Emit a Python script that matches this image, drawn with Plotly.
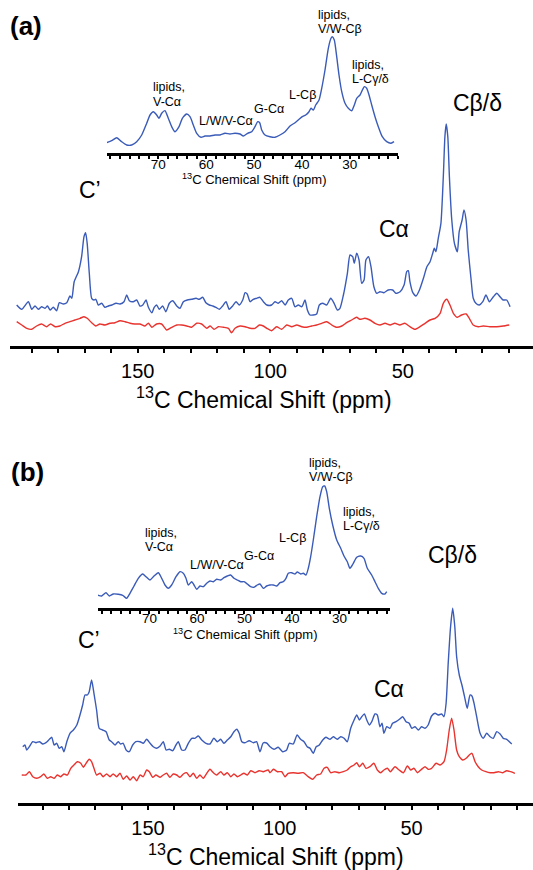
import plotly.graph_objects as go

W, H = 533, 870

# ---------------- data (ppm, intensity) ----------------
A_BLUE_PPM = [195.7, 193.8, 191.3, 190.0, 188.8, 187.5, 186.3, 185.0, 184.1, 183.1, 181.9, 180.6, 179.6, 178.1,
              176.8, 175.6, 174.9, 174.0, 172.4, 171.2, 170.3, 169.7, 169.1, 168.3, 167.4, 166.5, 165.8, 164.9,
              163.6, 162.4, 161.1, 159.8, 158.2, 156.7, 155.2, 154.2, 153.2, 151.7, 150.4, 149.2, 148.1, 146.9,
              146.0, 144.7, 143.8, 142.9, 141.9, 140.6, 139.4, 138.1, 136.8, 135.3, 134.1, 132.8, 131.3, 129.7,
              128.0, 126.8, 125.5, 124.3, 123.0, 121.7, 120.5, 119.2, 118.0, 116.7, 115.5, 114.2, 112.9, 111.7,
              110.4, 109.5, 108.7, 107.6, 106.4, 105.1, 103.9, 102.6, 101.3, 99.5, 98.2, 97.0, 95.7, 94.4, 93.2,
              91.9, 90.7, 89.4, 88.1, 86.9, 86.0, 85.0, 83.8, 82.5, 81.5, 80.2, 78.7, 77.2, 75.9, 74.7, 73.7,
              72.4, 70.9, 69.9, 68.9, 68.3, 67.4, 66.5, 65.5, 64.6, 63.9, 62.9, 62.0, 60.9, 59.8, 58.6, 57.1,
              55.5, 53.8, 52.6, 51.0, 49.5, 48.5, 47.9, 47.3, 46.2, 45.0, 43.7, 42.2, 40.9, 39.7, 38.7, 38.1,
              37.5, 36.6, 35.6, 34.7, 34.1, 33.6, 33.0, 32.4, 31.5, 30.5, 29.4, 28.7, 27.6, 26.9, 26.1, 25.3,
              24.2, 23.4, 22.4, 21.1, 19.8, 18.6, 17.3, 15.8, 14.5, 13.3, 12.1, 10.8, 9.5]
A_BLUE_INT = [39, 34.7, 42.3, 34.7, 38, 34.7, 37.3, 35.7, 38, 34, 36.7, 33.3, 41.3, 40,
              41.3, 48, 45.7, 62.3, 72.3, 87.3, 107.3, 111.3, 100.7, 70.7, 45.7, 44, 44.7, 39,
              40.7, 36.7, 38, 39, 40.7, 40, 42.3, 49, 43.3, 42.3, 44, 38, 39, 44,
              36.7, 31.3, 36.7, 39, 34.7, 38, 32.3, 40.7, 43.3, 38, 35.7, 42.3, 44, 44.7,
              45.7, 44.7, 46.7, 41.3, 39, 38, 36.7, 34.7, 38, 42.3, 34.7, 38, 42.3, 39,
              44, 51.3, 50, 42.3, 44.7, 45.7, 46.7, 42.3, 39, 39, 42.3, 40.7, 43.3, 39, 44,
              45.7, 37.3, 39, 37.3, 44, 34, 29, 29, 30, 39, 40.7, 39, 45.7, 40.7, 34, 35.7,
              49, 70.7, 89, 87.3, 80.7, 90.7, 84, 60.7, 64, 84, 87.3, 77.3, 57.3, 50.7, 52.3, 51.3,
              54, 54, 50.7, 52.3, 59, 72.3, 73.3, 62.3, 51.3, 48, 54, 65.7, 77.3, 82.3, 90.7, 95.7,
              92.3, 105.7, 120.7, 167.3, 207.3, 220, 207.3, 167.3, 124, 100.7, 92.3, 112.3, 124, 134, 124, 94,
              64, 45.7, 40.7, 39, 42.3, 49, 42.3, 47.3, 50.7, 47.3, 44, 44, 37.3]

A_RED_PPM = [195.7, 193.8, 191.9, 190.0, 188.2, 186.3, 184.4, 182.9, 181.2, 179.4, 177.5, 175.6, 173.7, 171.8,
             170.3, 169.1, 167.4, 165.8, 164.3, 162.4, 160.5, 158.6, 156.7, 154.8, 152.9, 151.1, 149.2, 147.3,
             146.0, 144.7, 142.9, 141.0, 139.1, 137.2, 135.3, 133.4, 131.5, 129.7, 127.8, 125.9, 124.0, 122.7,
             121.2, 119.6, 117.7, 115.8, 114.6, 113.3, 111.4, 109.5, 107.6, 105.8, 104.1, 102.6, 101.3, 99.5,
             97.6, 95.7, 93.8, 91.9, 90.0, 88.1, 86.3, 84.4, 82.5, 80.6, 78.7, 76.8, 74.9, 73.0, 71.2, 69.3,
             67.4, 66.2, 64.3, 62.4, 60.5, 58.6, 56.7, 54.8, 53.0, 51.1, 49.2, 47.3, 45.4, 43.5, 41.6, 39.7,
             37.8, 35.9, 34.7, 33.4, 32.2, 30.9, 29.4, 27.8, 26.1, 24.9, 23.4, 21.5, 19.6, 17.1, 14.5, 12.1, 9.8]
A_RED_INT = [22.3, 19, 15.7, 14.7, 18, 20, 17.3, 20, 17.3, 18, 20.7, 22.3, 24, 25.7,
             27.3, 25.7, 21.3, 18, 20, 19, 20.7, 21.3, 23.3, 22.3, 20.7, 20, 20, 18,
             20.7, 16.7, 20, 20, 14, 16.7, 19, 19, 18, 16.7, 20.7, 20, 15.7, 18,
             14.7, 17.3, 16.7, 15.7, 11.3, 15.7, 18, 17.3, 15.7, 15.7, 19, 18, 15.7, 13.3,
             17.3, 14.7, 19, 17.3, 19, 17.3, 16.7, 18, 19, 20.7, 22.3, 19, 16.7, 18, 21.3, 24,
             26.7, 24.7, 25.7, 24, 20.7, 19, 20.7, 19, 20.7, 19, 20.7, 17.3, 14.7, 17.3, 20.7, 24,
             25.7, 30.7, 40.7, 44.7, 39, 30.7, 26.7, 29, 30, 25.7, 19, 17.3, 18, 17.3, 17.3, 18, 19]

A_INSET_PPM = [80.77, 79.73, 78.68, 77.64, 76.60, 75.55, 74.51, 73.46, 72.42, 71.73, 71.04, 70.33, 69.85, 69.29,
               68.60, 67.91, 67.20, 66.51, 65.67, 64.98, 64.07, 63.38, 62.69, 61.98, 61.08, 60.25, 59.2, 58.16,
               57.11, 56.07, 55.03, 53.98, 52.94, 52.25, 51.33, 50.5, 49.81, 49.24, 48.83, 48.41, 47.72, 46.67,
               45.63, 44.59, 43.54, 42.5, 41.45, 40.62, 39.93, 39.22, 38.53, 38.11, 37.63, 37.13, 36.44, 35.88,
               35.19, 34.5, 33.94, 33.67, 33.25, 32.75, 32.27, 31.7, 31.01, 30.32, 29.61, 29.07, 28.57, 27.88,
               26.99, 26.49, 26.0, 25.44, 24.75, 24.06, 23.23, 22.31, 21.41, 20.78]
A_INSET_INT = [10.3, 12.3, 15.3, 11.3, 8, 8, 11.3, 18, 29.7, 38, 41.3, 38, 34.7, 39.7,
               42.3, 34.7, 26.3, 21.3, 26.3, 34.7, 39, 36.3, 28, 19.7, 15.7, 17, 17, 18,
               18, 19.7, 19, 19.7, 19, 17, 19.7, 21.3, 26.3, 31.3, 30.3, 23, 18, 16.3,
               15.7, 18, 21.3, 27, 30.3, 33.7, 36.3, 38, 41.3, 44.7, 43, 48, 53, 64.7,
               83, 104.7, 114.7, 116.3, 113, 96.3, 78, 61.3, 49.7, 44.7, 42.3, 48, 54.7, 58,
               66.3, 64.7, 58, 48, 36.3, 26.3, 16.3, 11.3, 9.7, 11.3]

B_BLUE_PPM = [197.5, 196.7, 196.0, 195.0, 193.7, 192.5, 191.2, 189.9, 188.7, 187.4, 186.5, 185.6, 184.6, 183.7,
              182.7, 181.9, 180.8, 179.6, 178.3, 177.0, 175.8, 174.8, 173.9, 173.0, 172.3, 171.4, 170.5, 169.5,
              168.5, 167.2, 165.9, 164.7, 163.8, 162.5, 161.3, 160.4, 159.4, 158.3, 157.1, 155.8, 154.6, 153.0,
              151.8, 150.5, 149.2, 148.0, 146.7, 145.4, 144.2, 143.1, 141.9, 140.6, 139.4, 138.5, 137.2, 136.0,
              134.7, 133.4, 132.2, 130.9, 129.6, 128.0, 126.5, 125.0, 123.7, 122.4, 121.2, 119.9, 118.6, 117.4,
              116.3, 115.4, 114.4, 113.2, 111.6, 110.0, 108.8, 107.5, 106.3, 105.0, 103.7, 102.2, 100.6, 98.9,
              97.4, 96.4, 94.9, 93.4, 92.1, 90.8, 89.6, 88.5, 87.3, 86.2, 85.0, 83.7, 82.5, 80.9, 79.7, 78.2,
              76.9, 75.6, 74.4, 73.1, 71.8, 70.8, 69.8, 68.9, 67.9, 67.0, 66.0, 65.1, 63.9, 63.0, 62.0, 61.2,
              60.5, 59.4, 58.2, 57.2, 55.9, 54.6, 53.4, 52.1, 50.9, 49.9, 48.7, 47.4, 46.2, 44.9, 43.7, 42.4,
              41.1, 39.9, 38.6, 37.7, 36.9, 36.1, 35.2, 34.4, 33.6, 32.9, 31.9, 30.9, 29.9, 28.9, 27.8, 27.1,
              26.3, 25.3, 24.0, 22.8, 21.5, 20.2, 19.0, 17.7, 16.4, 15.2, 13.9, 12.9, 12.0]
B_BLUE_INT = [56.3, 58, 53, 56.3, 61.3, 60.3, 61.3, 59, 60.3, 63.7, 65.7, 58, 59.7, 54.7,
              56.3, 51.3, 61.3, 69.7, 73, 78, 88, 98, 108, 108, 111.3, 123, 109.7, 93,
              74.7, 73, 71.3, 63, 61.3, 58, 61.3, 59, 59.7, 53, 51.3, 58, 61.3, 61.3,
              59.7, 63.7, 59.7, 56.3, 54.7, 57, 61.3, 53, 53.7, 52.3, 58, 61.3, 53, 53,
              59.7, 64.7, 64.7, 67, 63, 59.7, 59, 64.7, 61.3, 63.7, 59.7, 63, 66.3, 71.3,
              73.7, 69.7, 61.3, 60.3, 62.3, 60.3, 61.3, 51.3, 60, 60, 56.3, 53.7, 55.7, 51.3,
              53, 59.7, 59, 68, 63.7, 61.3, 56.3, 54.7, 49.7, 56.3, 58, 63, 65.7, 63.7, 66.3, 63.7,
              66.3, 64.7, 61.3, 74.7, 83, 88, 83, 86.3, 89, 83, 78, 81.3, 89, 88, 76.3, 79.7,
              69.7, 76.3, 74.7, 79.7, 81.3, 83.7, 86.3, 81.3, 79.7, 74.7, 76.3, 73, 76.3, 74.7, 78, 87,
              89.7, 88, 89, 86.3, 99.7, 139.7, 176.3, 194.7, 176.3, 146.3, 128, 118, 106.3, 94.7, 108, 107,
              99.7, 86.3, 69.7, 64.7, 69.7, 66.3, 64.7, 71.3, 69, 64.7, 63.7, 61.3, 59]

B_RED_PPM = [197.9, 196.3, 195.0, 193.7, 192.2, 190.7, 189.5, 188.2, 186.9, 185.6, 184.4, 183.1, 181.9, 180.6,
             179.3, 178.1, 176.8, 175.5, 174.5, 173.5, 172.3, 171.4, 170.5, 169.5, 168.2, 167.0, 165.7, 164.4,
             163.2, 161.9, 160.6, 159.4, 158.1, 156.8, 155.6, 154.3, 153.0, 151.8, 150.5, 149.5, 148.2, 147.0,
             145.4, 144.2, 142.9, 141.7, 140.4, 139.1, 137.9, 136.6, 135.3, 134.1, 132.8, 131.5, 130.3, 129.0,
             127.7, 126.5, 125.2, 123.9, 122.4, 121.2, 119.9, 118.6, 117.4, 116.1, 114.8, 113.6, 112.3, 111.0,
             109.4, 107.8, 106.3, 104.4, 103.7, 102.4, 100.9, 99.3, 98.0, 96.8, 94.9, 93.0, 91.1, 89.2, 87.5,
             86.0, 84.5, 83.2, 82.0, 80.7, 79.1, 77.4, 75.9, 74.4, 73.1, 71.8, 70.8, 69.8, 68.5, 67.3, 65.8,
             64.3, 63.0, 61.7, 60.5, 59.2, 58.0, 56.3, 54.7, 53.1, 51.6, 50.3, 49.1, 47.8, 46.5, 44.9, 43.7,
             42.4, 40.7, 39.2, 37.7, 36.7, 35.7, 34.8, 33.9, 32.9, 31.9, 30.6, 29.3, 28.1, 27.1, 25.9, 24.7,
             23.4, 21.8, 20.2, 18.7, 17.1, 15.4, 13.9, 12.4, 10.8]
B_RED_INT = [28, 28, 31.3, 26.3, 24.7, 26.3, 29, 24.7, 26.3, 24.7, 28, 26.3, 29, 28,
             34.7, 38, 41.3, 39.7, 35.7, 39.7, 43.7, 41.3, 34.7, 28, 29.7, 26.3, 29, 26.3,
             29, 26.3, 29.7, 23.7, 27, 23, 26.3, 22.3, 28, 26.3, 33, 31.3, 25.7, 28,
             25.7, 28, 29.7, 25.7, 29, 28, 25.7, 29, 30.3, 26.3, 29.7, 24.7, 28, 24.7,
             29.7, 33.7, 30.3, 28, 31.3, 28, 30.3, 26.3, 29, 26.3, 28, 29.7, 28, 32.3,
             30.3, 32.3, 31.3, 33, 30.3, 33.7, 31.3, 31.3, 26.3, 29.7, 30.3, 29.7, 30.3, 26.3, 23.7,
             28, 29, 34.7, 35.7, 30.3, 31.3, 30.3, 31.3, 33, 36.3, 38, 40.3, 36.3, 39.7, 34.7, 36.3,
             39.7, 33, 30.3, 33, 34.7, 31.3, 36.3, 33, 30.3, 37, 33, 34.7, 30.3, 33, 36.3, 33.7,
             34.7, 39.7, 38, 41.3, 53, 73, 84.7, 73, 53, 46.3, 43, 44.7, 48, 49.7, 41.3, 36.3,
             33, 31.3, 30.3, 30.3, 31.3, 30.3, 32.3, 31.3, 29.7]

B_INSET_PPM = [80.97, 80.04, 79.14, 78.44, 77.6, 76.55, 75.62, 74.78, 74.09, 73.24, 72.34, 71.41, 70.72, 69.88,
               69.03, 68.13, 67.41, 66.72, 66.02, 65.31, 64.4, 63.56, 62.87, 62.3, 61.81, 61.1, 60.61, 60.04,
               59.35, 58.65, 57.94, 57.24, 56.55, 55.84, 55.0, 54.3, 53.6, 52.89, 52.19, 51.5, 50.78, 50.09,
               49.39, 48.68, 47.98, 47.29, 46.72, 46.02, 45.31, 44.62, 43.92, 43.2, 42.51, 41.81, 41.25, 40.76,
               40.05, 39.35, 38.87, 38.15, 37.6, 37.04, 36.55, 36.05, 35.5, 34.79, 34.09, 33.52, 33.1, 32.68,
               32.13, 31.42, 30.57, 29.73, 29.04, 28.34, 27.78, 27.08, 26.36, 25.52, 24.83, 24.13, 23.21, 22.51,
               21.82, 21.1, 20.41, 20.05]
B_INSET_INT = [12.5, 11.5, 14.8, 11.5, 13.5, 13.2, 12.2, 9.2, 14.2, 21.5, 29.2, 33.5, 30.8, 27.5,
               31.5, 34.8, 29.2, 22.5, 19.2, 22.5, 30.8, 35.8, 34.2, 29.2, 22.5, 25.8, 22.5, 18.2,
               21.5, 20.8, 24.2, 26.5, 25.8, 28.2, 27.5, 29.8, 31.5, 32.5, 29.2, 27.5, 25.8, 25.8,
               23.5, 20.8, 20.2, 22.5, 23.5, 19.2, 21.5, 22.5, 22.5, 21.5, 24.8, 25.8, 29.2, 34.2,
               34.8, 33.5, 35.5, 33.5, 34.2, 32.5, 39.2, 50.8, 67.5, 90.8, 110.8, 120.8, 121.5, 115.8,
               99.2, 82.5, 67.5, 59.2, 51.5, 45.8, 39.2, 44.2, 50.2, 51.5, 49.2, 39.2, 32.5, 25.8,
               19.2, 14.2, 13.5, 15.8]

MAIN_TICKS = [150, 100, 50]
INSET_TICKS = [70, 60, 50, 40, 30]
AXIS_TITLE = "<sup>13</sup>C Chemical Shift (ppm)"

BLUE = "#3a5bb8"
RED = "#e8332e"
FONT = "Liberation Sans"


def fx(p):
    return p / W


def fy(p):
    return 1 - p / H


fig = go.Figure()
traces = [
    (A_BLUE_PPM, A_BLUE_INT, BLUE, "x", "y"),
    (A_RED_PPM, A_RED_INT, RED, "x", "y"),
    (A_INSET_PPM, A_INSET_INT, BLUE, "x2", "y2"),
    (B_BLUE_PPM, B_BLUE_INT, BLUE, "x3", "y3"),
    (B_RED_PPM, B_RED_INT, RED, "x3", "y3"),
    (B_INSET_PPM, B_INSET_INT, BLUE, "x4", "y4"),
]
for xs, ys, c, xa, ya in traces:
    fig.add_trace(go.Scatter(x=xs, y=ys, mode="lines", xaxis=xa, yaxis=ya,
                             line=dict(color=c, width=1.4, shape="spline", smoothing=0.6),
                             showlegend=False, hoverinfo="skip"))


def main_x(dom, rng, anchor):
    return dict(domain=dom, range=rng, anchor=anchor, showline=True, linewidth=3, linecolor="black",
                ticks="outside", ticklen=4, tickwidth=2, tickcolor="black",
                tickmode="array", tickvals=MAIN_TICKS, ticktext=[str(t) for t in MAIN_TICKS],
                tickfont=dict(family=FONT, size=20, color="black"), ticklabelstandoff=1,
                minor=dict(tickmode="linear", tick0=0, dtick=10, ticks="outside", ticklen=4,
                           tickwidth=2, tickcolor="black", showgrid=False),
                showgrid=False, zeroline=False, fixedrange=True)


def inset_x(dom, rng, anchor):
    return dict(domain=dom, range=rng, anchor=anchor, showline=True, linewidth=3, linecolor="black",
                ticks="outside", ticklen=3, tickwidth=2, tickcolor="black",
                tickmode="array", tickvals=INSET_TICKS, ticktext=[str(t) for t in INSET_TICKS],
                tickfont=dict(family=FONT, size=13.5, color="black"), ticklabelstandoff=-7,
                minor=dict(tickmode="linear", tick0=0, dtick=2, ticks="outside", ticklen=3,
                           tickwidth=2, tickcolor="black", showgrid=False),
                showgrid=False, zeroline=False, fixedrange=True)


def hidden_y(dom, rng, anchor):
    return dict(domain=dom, range=rng, anchor=anchor, visible=False, fixedrange=True)


fig.update_layout(
    width=W, height=H, margin=dict(l=0, r=0, t=0, b=0),
    paper_bgcolor="white", plot_bgcolor="rgba(0,0,0,0)", showlegend=False,
    xaxis=main_x([fx(10.2), 1], [198.15, 0.85], "y"),
    yaxis=hidden_y([fy(345.5), fy(100)], [-1.5, 244], "x"),
    xaxis2=inset_x([fx(107), fx(398)], [80.71, 19.95], "y2"),
    yaxis2=hidden_y([fy(153.3), fy(10)], [-0.3, 143], "x2"),
    xaxis3=main_x([fx(17.7), 1], [199.43, 3.93], "y3"),
    yaxis3=hidden_y([fy(803), fy(560)], [0, 243], "x3"),
    xaxis4=inset_x([fx(98), fx(390.4)], [80.82, 19.27], "y4"),
    yaxis4=hidden_y([fy(607.5), fy(450)], [0, 157.5], "x4"),
)

ann = []


def add(text, x, y, size, xanchor="center", bold=False):
    ann.append(dict(text=f"<b>{text}</b>" if bold else text, x=fx(x), y=fy(y), xref="paper", yref="paper",
                    xanchor=xanchor, yanchor="middle", showarrow=False,
                    font=dict(family=FONT, size=size, color="black")))


# panel letters
add("(a)", 26.3, 25.5, 26, bold=True)
add("(b)", 27.5, 472, 26, bold=True)
# main peak labels
for t, x, y in [("C’", 90, 190), ("Cα", 394, 229), ("Cβ/δ", 477, 103.5),
                ("C’", 88.6, 640), ("Cα", 389, 689), ("Cβ/δ", 452, 555)]:
    add(t, x, y, 23)
# main axis titles
add(AXIS_TITLE, 264, 398.5, 23)
add(AXIS_TITLE, 276, 855, 23)
# inset axis titles
add(AXIS_TITLE, 254, 179, 13)
add(AXIS_TITLE, 245.3, 633.5, 13)
# inset labels (a)
for t, x, y in [("lipids,", 151, 87.5), ("V-Cα", 151, 101.5), ("L/W/V-Cα", 197, 121),
                ("G-Cα", 251.5, 109.5), ("L-Cβ", 286.5, 94.5), ("lipids,", 316, 15.3),
                ("V/W-Cβ", 316, 28.6), ("lipids,", 350, 65.2), ("L-Cγ/δ", 350, 78.8)]:
    add(t, x, y, 12.5, xanchor="left")
# inset labels (b)
for t, x, y in [("lipids,", 142.7, 533.3), ("V-Cα", 142.7, 546.7), ("L/W/V-Cα", 188.3, 565),
                ("G-Cα", 241.7, 556), ("L-Cβ", 276.7, 538.3), ("lipids,", 306.7, 463.3),
                ("V/W-Cβ", 306.7, 476.5), ("lipids,", 340.7, 512.0), ("L-Cγ/δ", 340.7, 525.6)]:
    add(t, x, y, 12.5, xanchor="left")

fig.update_layout(annotations=ann)
fig.write_html("out.html", config={"displayModeBar": False, "staticPlot": True},
               post_script="document.body.style.margin='0px';document.body.style.overflow='hidden';")
